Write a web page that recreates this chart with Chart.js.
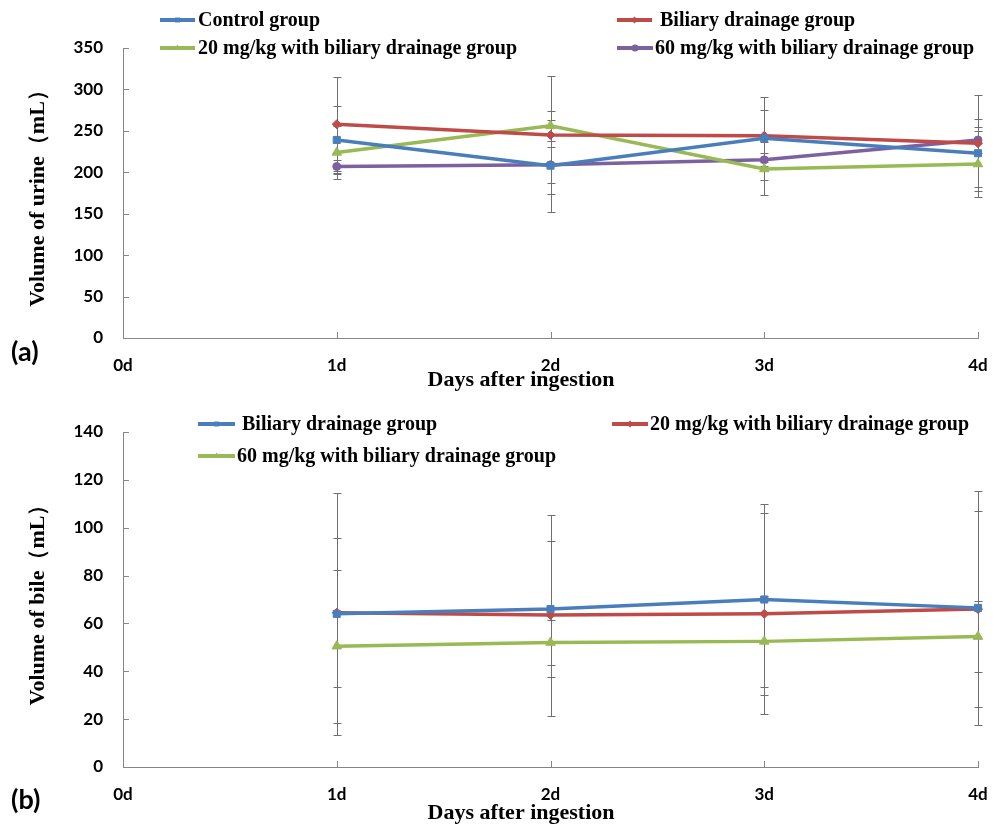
<!DOCTYPE html>
<html>
<head>
<meta charset="utf-8">
<script src="https://cdn.jsdelivr.net/npm/chart.js@4/dist/chart.umd.min.js"></script>
<style>
  body { margin: 0; background: #fff; }
  canvas { position: absolute; left: 0; }
  #urineChart { top: 0; }
  #bileChart { top: 400px; }
</style>
</head>
<body>
<canvas id="urineChart" width="993" height="400"></canvas>
<canvas id="bileChart" width="993" height="428"></canvas>
<script>
// days on the x axis, 0d has no measurement
const days = ['0d', '1d', '2d', '3d', '4d'];

// (a) urine volume, mean and SD
const controlUrine = [null, 239, 208, 241, 223];
const biliaryUrine = [null, 258, 245, 244, 235];
const low20Urine = [null, 224, 256, 204, 210];
const high60Urine = [null, 207, 209, 215, 239];
const controlUrineSd = [null, 41.5, 55.5, 50, 41];
const biliaryUrineSd = [null, 56.5, 71.5, 31, 58];
const low20UrineSd = [null, 31.5, 18, 32, 39.5];
const high60UrineSd = [null, 8, 21.5, 8, 16];

// (b) bile volume, mean and SD
const biliaryBile = [null, 64, 66, 70, 66.5];
const low20Bile = [null, 64.5, 63.5, 64, 66];
const high60Bile = [null, 50.5, 52, 52.5, 54.5];
const biliaryBileSd = [null, 50.5, 28.5, 40, 49];
const low20BileSd = [null, 31, 42, 42, 41];
const high60BileSd = [null, 32, 9.5, 19, 15];

const urineTicks = { max: 350, step: 50 };
const bileTicks = { max: 140, step: 20 };

const BLUE = '#4A7EBB';
const RED = '#BE4B48';
const GREEN = '#98B954';
const PURPLE = '#7D60A0';
const AXIS = '#868686';
const SERIF = '"Liberation Serif", "Times New Roman", serif';
const SANS = 'Lato, "Liberation Sans", sans-serif';

function series(label, data, sd, color, style, radius) {
  return {
    label: label,
    data: data,
    sd: sd,
    borderColor: color,
    backgroundColor: color,
    borderWidth: 3.5,
    pointStyle: style,
    pointRadius: radius,
    pointBorderWidth: 1,
    pointBackgroundColor: color,
    tension: 0,
  };
}

// SD whiskers, drawn under the lines
const errorBars = {
  id: 'errorBars',
  beforeDatasetsDraw(chart) {
    const { ctx, scales: { x, y } } = chart;
    ctx.save();
    ctx.strokeStyle = '#6f6f6f';
    ctx.lineWidth = 1;
    chart.data.datasets.forEach((ds) => {
      ds.data.forEach((v, i) => {
        if (v == null) return;
        const px = Math.round(x.getPixelForValue(i)) + 0.5;
        const top = Math.round(y.getPixelForValue(v + ds.sd[i])) + 0.5;
        const bot = Math.round(y.getPixelForValue(v - ds.sd[i])) + 0.5;
        ctx.beginPath();
        ctx.moveTo(px, top);
        ctx.lineTo(px, bot);
        ctx.moveTo(px - 4, top);
        ctx.lineTo(px + 4, top);
        ctx.moveTo(px - 4, bot);
        ctx.lineTo(px + 4, bot);
        ctx.stroke();
      });
    });
    ctx.restore();
  },
};

// tick marks pointing into the plot area, like the Excel original
const innerTicks = {
  id: 'innerTicks',
  afterDraw(chart) {
    const { ctx, chartArea: a, scales: { x, y } } = chart;
    ctx.save();
    ctx.strokeStyle = AXIS;
    ctx.lineWidth = 1;
    ctx.beginPath();
    y.ticks.forEach((t) => {
      const py = Math.round(y.getPixelForValue(t.value)) + 0.5;
      ctx.moveTo(a.left, py);
      ctx.lineTo(a.left + 6, py);
    });
    x.ticks.forEach((t, i) => {
      if (i === 0) return;
      const px = Math.round(x.getPixelForValue(i)) + 0.5;
      ctx.moveTo(px, a.bottom);
      ctx.lineTo(px, a.bottom - 6);
    });
    ctx.stroke();
    ctx.restore();
  },
};

// legend placed in two columns, plus panel letter and x title
const panelText = {
  id: 'panelText',
  afterDraw(chart, args, opts) {
    const ctx = chart.ctx;
    ctx.save();
    ctx.font = 'bold 20px ' + SERIF;
    ctx.textBaseline = 'middle';
    opts.legend.forEach((it) => {
      const ds = chart.data.datasets[it.index];
      ctx.strokeStyle = ds.borderColor;
      ctx.lineWidth = 4;
      ctx.beginPath();
      ctx.moveTo(it.x, it.y);
      ctx.lineTo(it.x + it.w, it.y);
      ctx.stroke();
      ctx.fillStyle = ds.borderColor;
      Chart.helpers.drawPoint(ctx, { pointStyle: ds.pointStyle, radius: 3.5, borderWidth: 0, rotation: 0 }, it.x + it.w / 2, it.y);
      ctx.fillStyle = '#000';
      ctx.fillText(ds.label, it.tx, it.y + 1);
    });

    ctx.textBaseline = 'alphabetic';
    ctx.textAlign = 'center';
    ctx.font = 'bold 22px ' + SERIF;
    ctx.fillText('Days after ingestion', 521, opts.titleY);

    ctx.textAlign = 'left';
    ctx.textBaseline = 'middle';
    ctx.font = 'bold 27px ' + SANS;
    ctx.fillText(opts.letter, 11, opts.letterY);
    ctx.restore();
  },
};

function makeOptions(cfg) {
  return {
    responsive: false,
    animation: false,
    layout: { padding: { top: cfg.top, right: 15, left: 0, bottom: 0 } },
    plugins: {
      legend: { display: false },
      tooltip: { enabled: false },
      panelText: cfg.text,
    },
    scales: {
      x: {
        grid: { drawOnChartArea: false, drawTicks: false },
        border: { color: AXIS },
        ticks: { padding: 17, color: '#000', font: { family: SANS, size: 17, weight: 'bold' }, maxRotation: 0, autoSkip: false },
        afterFit: (s) => {
          s.height = cfg.xHeight;
          s.paddingLeft = 0;
          s.paddingRight = 0;
        },
      },
      y: {
        min: 0,
        max: cfg.max,
        grid: { drawOnChartArea: false, drawTicks: false },
        border: { color: AXIS },
        ticks: { stepSize: cfg.step, padding: 20, color: '#000', font: { family: SANS, size: 17, weight: 'bold' } },
        title: {
          display: true,
          text: cfg.yTitle,
          color: '#000',
          font: { family: SERIF, size: 22, weight: 'bold' },
          padding: { top: 25, bottom: 0 },
        },
        afterFit: (s) => { s.width = 123; },
      },
    },
  };
}

new Chart(document.getElementById('urineChart'), {
  type: 'line',
  data: {
    labels: days,
    datasets: [
      series('Control group', controlUrine, controlUrineSd, BLUE, 'rect', 5),
      series('Biliary drainage group', biliaryUrine, biliaryUrineSd, RED, 'rectRot', 4.5),
      series('20 mg/kg with biliary drainage group', low20Urine, low20UrineSd, GREEN, 'triangle', 5.5),
      series('60 mg/kg with biliary drainage group', high60Urine, high60UrineSd, PURPLE, 'circle', 4),
    ],
  },
  options: makeOptions({
    top: 48,
    xHeight: 62,
    max: urineTicks.max,
    step: urineTicks.step,
    yTitle: 'Volume of urine（mL）',
    text: {
      legend: [
        { index: 0, x: 160, w: 35, y: 20, tx: 198 },
        { index: 2, x: 160, w: 35, y: 48, tx: 198 },
        { index: 1, x: 617, w: 35, y: 20, tx: 660 },
        { index: 3, x: 617, w: 36, y: 48, tx: 655 },
      ],
      titleY: 386,
      letter: '(a)',
      letterY: 352,
    },
  }),
  plugins: [errorBars, innerTicks, panelText],
});

new Chart(document.getElementById('bileChart'), {
  type: 'line',
  data: {
    labels: days,
    datasets: [
      series('Biliary drainage group', biliaryBile, biliaryBileSd, BLUE, 'rect', 5),
      series('20 mg/kg with biliary drainage group', low20Bile, low20BileSd, RED, 'rectRot', 4.5),
      series('60 mg/kg with biliary drainage group', high60Bile, high60BileSd, GREEN, 'triangle', 5.5),
    ],
  },
  options: makeOptions({
    top: 32,
    xHeight: 61,
    max: bileTicks.max,
    step: bileTicks.step,
    yTitle: 'Volume of bile（mL）',
    text: {
      legend: [
        { index: 0, x: 198, w: 37, y: 24, tx: 242 },
        { index: 1, x: 612, w: 36, y: 24, tx: 650 },
        { index: 2, x: 198, w: 37, y: 56, tx: 237 },
      ],
      titleY: 419,
      letter: '(b)',
      letterY: 400,
    },
  }),
  plugins: [errorBars, innerTicks, panelText],
});
</script>
</body>
</html>
